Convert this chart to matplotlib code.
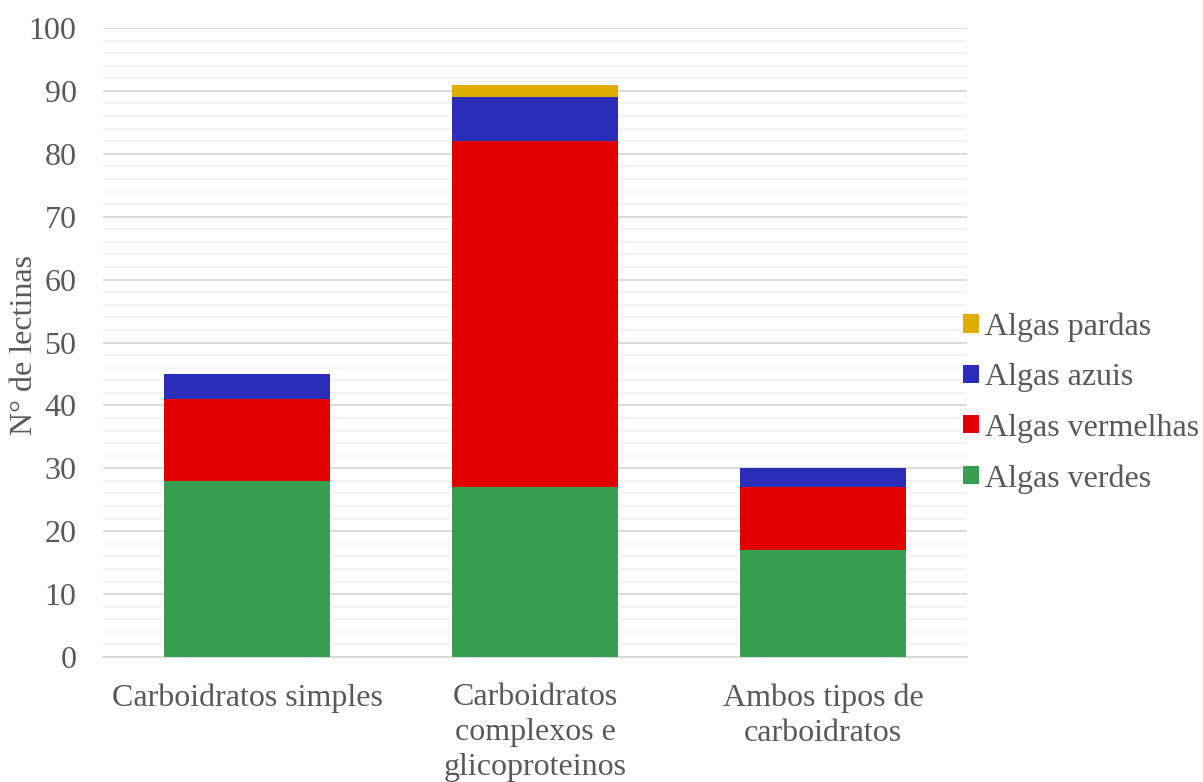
import matplotlib
matplotlib.use("Agg")
import matplotlib.pyplot as plt
from matplotlib.patches import Patch
import numpy as np

categories = ["Carboidratos simples", "Carboidratos\ncomplexos e\nglicoproteinos", "Ambos tipos de\ncarboidratos"]
series_names = ["Algas verdes", "Algas vermelhas", "Algas azuis", "Algas pardas"]
verdes = [28, 27, 17]
vermelhas = [13, 55, 10]
azuis = [4, 7, 3]
pardas = [0, 2, 0]
colors = ["#379E52", "#E30000", "#2A2DB8", "#E1AC00"]
y_ticks = [0, 10, 20, 30, 40, 50, 60, 70, 80, 90, 100]

plt.rcParams["font.family"] = ["Liberation Serif", "DejaVu Serif"]
text_color = "#595959"
fs = 23

fig = plt.figure(figsize=(12.03, 7.82), dpi=100)
ax = fig.add_axes([103 / 1203, 1 - 657 / 782, 864 / 1203, 629 / 782])

x = np.arange(len(categories))
bottom = np.zeros(len(categories))
for vals, col in zip([verdes, vermelhas, azuis, pardas], colors):
    v = np.array(vals, dtype=float)
    ax.bar(x, v, width=0.573, bottom=bottom, color=col, zorder=3)
    bottom += v

ax.set_xlim(-0.5, 2.5)
ax.set_ylim(0, 100)
ax.set_yticks(y_ticks)
ax.set_yticks(np.arange(0, 101, 2), minor=True)
ax.grid(which="major", axis="y", color="#D9D9D9", linewidth=1.3, zorder=1)
ax.grid(which="minor", axis="y", color="#F2F2F2", linewidth=1.3, zorder=0)
ax.tick_params(axis="y", which="both", length=0, labelsize=fs, labelcolor=text_color, pad=19)
ax.tick_params(axis="x", length=0, labelsize=fs, labelcolor=text_color, pad=19)
ax.set_xticks(x)
ax.set_xticklabels(categories, linespacing=1.27, va="top")
for s in ["top", "right", "left"]:
    ax.spines[s].set_visible(False)
ax.spines["bottom"].set_color("#D9D9D9")
ax.spines["bottom"].set_linewidth(1.3)

fig.text(25 / 1203, 1 - 345 / 782, "N° de lectinas", rotation=90, fontsize=fs,
         color=text_color, ha="center", va="center")

handles = [Patch(facecolor=c, edgecolor="none") for c in colors[::-1]]
leg = fig.legend(handles, series_names[::-1], loc="center left",
                 bbox_to_anchor=(963 / 1203, 1 - 403 / 782), frameon=False,
                 fontsize=fs, handlelength=0.5, handleheight=0.5,
                 handletextpad=0.2, labelspacing=0.67, borderpad=0,
                 borderaxespad=0)
for t in leg.get_texts():
    t.set_color(text_color)

fig.savefig("out.png", dpi=100)
